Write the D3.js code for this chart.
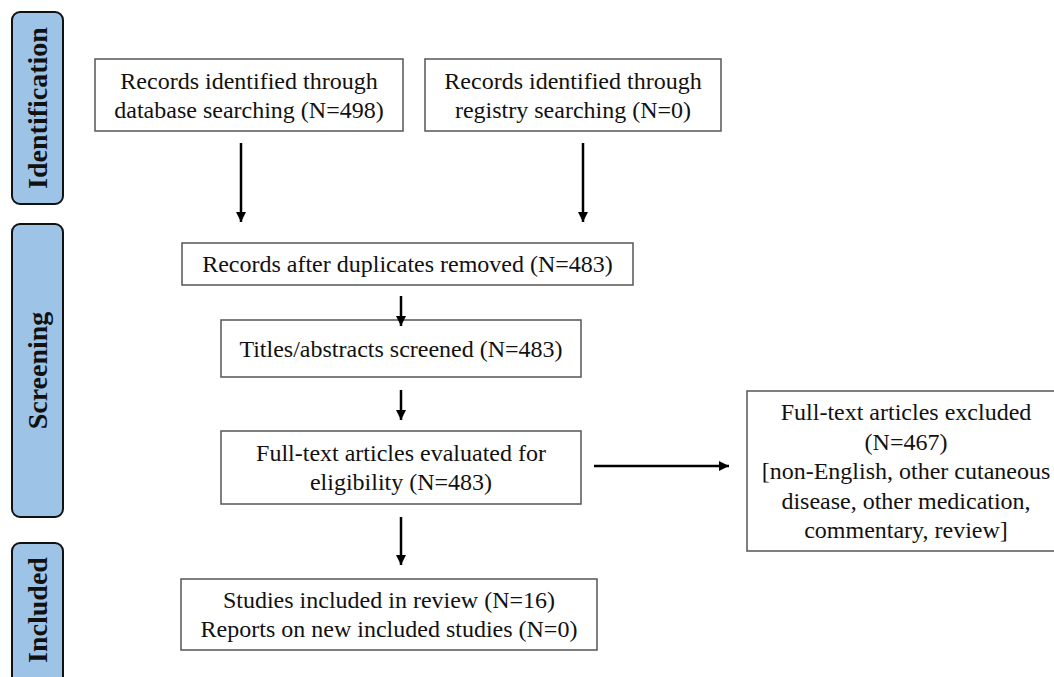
<!DOCTYPE html>
<html>
<head>
<meta charset="utf-8">
<script src="https://cdn.jsdelivr.net/npm/d3@7"></script>
<style>
  html, body { margin: 0; padding: 0; background: #fff; }
  svg { display: block; }
</style>
</head>
<body>
<div id="chart"></div>
<script>
// phases on the left
const phases = ["Identification", "Screening", "Included"];

// flow steps: text lines, {n} is replaced by the count
const stepText = [
  ["Records identified through", "database searching (N={n})"],
  ["Records identified through", "registry searching (N={n})"],
  ["Records after duplicates removed (N={n})"],
  ["Titles/abstracts screened (N={n})"],
  ["Full-text articles evaluated for", "eligibility (N={n})"],
  ["Studies included in review (N={n})", "Reports on new included studies (N={n2})"],
  ["Full-text articles excluded", "(N={n})", "[non-English, other cutaneous", "disease, other medication,", "commentary, review]"]
];
const stepCounts = [498, 0, 483, 483, 483, 16, 467];
const extraCounts = [null, null, null, null, null, 0, null];

// layout (pixels)
var w = 1054, h = 677;

const phaseBoxes = [
  {x: 12, y: 12, w: 51, h: 192},
  {x: 12, y: 224, w: 51, h: 293},
  {x: 12, y: 543, w: 51, h: 160}
];
const stepBoxes = [
  {x: 95, y: 59, w: 308, h: 72},
  {x: 425, y: 59, w: 296, h: 72},
  {x: 182, y: 243, w: 451, h: 42},
  {x: 221, y: 320, w: 360, h: 57},
  {x: 221, y: 431, w: 360, h: 73},
  {x: 181, y: 579, w: 416, h: 71},
  {x: 747, y: 391, w: 330, h: 160}
];
const arrows = [
  [[241, 143], [241, 222]],
  [[583, 143], [583, 222]],
  [[401, 296], [401, 326]],
  [[401, 390], [401, 420]],
  [[401, 517], [401, 565]],
  [[594, 466], [729, 466]]
];

const svg = d3.select("#chart")
  .append("svg")
  .attr("width", w)
  .attr("height", h);

svg.append("defs").append("marker")
  .attr("id", "head")
  .attr("viewBox", "0 0 10 10")
  .attr("refX", 10)
  .attr("refY", 5)
  .attr("markerWidth", 4.2)
  .attr("markerHeight", 4.2)
  .attr("markerUnits", "strokeWidth")
  .attr("orient", "auto")
  .append("path")
  .attr("d", "M0,0 L10,5 L0,10 Z")
  .attr("fill", "#000");

// phase bars
const phase = svg.append("g").selectAll("g")
  .data(phases)
  .enter()
  .append("g");

phase.append("rect")
  .attr("x", (d, i) => phaseBoxes[i].x)
  .attr("y", (d, i) => phaseBoxes[i].y)
  .attr("width", (d, i) => phaseBoxes[i].w)
  .attr("height", (d, i) => phaseBoxes[i].h)
  .attr("rx", 8)
  .attr("fill", "#9dc3e6")
  .attr("stroke", "#111")
  .attr("stroke-width", 2);

phase.append("text")
  .attr("transform", (d, i) => {
    const b = phaseBoxes[i];
    const cy = i == 2 ? 610 : b.y + b.h / 2;
    return "translate(" + (b.x + b.w / 2) + "," + cy + ") rotate(-90)";
  })
  .attr("text-anchor", "middle")
  .attr("dy", "0.35em")
  .attr("font-family", "'Liberation Serif', 'Times New Roman', serif")
  .attr("font-weight", "bold")
  .attr("font-size", 28)
  .attr("fill", "#111")
  .text(d => d);

// step boxes
const step = svg.append("g").selectAll("g")
  .data(stepText)
  .enter()
  .append("g");

step.append("rect")
  .attr("x", (d, i) => stepBoxes[i].x)
  .attr("y", (d, i) => stepBoxes[i].y)
  .attr("width", (d, i) => stepBoxes[i].w)
  .attr("height", (d, i) => stepBoxes[i].h)
  .attr("fill", "#fff")
  .attr("stroke", "#555")
  .attr("stroke-width", 1.5);

const lineGap = 29;
step.each(function(lines, i) {
  const b = stepBoxes[i];
  const cx = i == 6 ? 906 : b.x + b.w / 2;
  const cy = b.y + b.h / 2;
  const gap = i == 6 ? 29.5 : lineGap;
  const y0 = cy - (lines.length - 1) * gap / 2;
  d3.select(this).selectAll("text")
    .data(lines)
    .enter()
    .append("text")
    .attr("x", cx)
    .attr("y", (l, j) => y0 + j * gap)
    .attr("dy", "0.35em")
    .attr("text-anchor", "middle")
    .attr("font-family", "'Liberation Serif', 'Times New Roman', serif")
    .attr("font-size", 24)
    .attr("fill", "#111")
    .text(l => l.replace("{n}", stepCounts[i]).replace("{n2}", extraCounts[i]));
});

// arrows
svg.append("g").selectAll("line")
  .data(arrows)
  .enter()
  .append("line")
  .attr("x1", d => d[0][0])
  .attr("y1", d => d[0][1])
  .attr("x2", d => d[1][0])
  .attr("y2", d => d[1][1])
  .attr("stroke", "#000")
  .attr("stroke-width", 2.5)
  .attr("marker-end", "url(#head)");
</script>
</body>
</html>
